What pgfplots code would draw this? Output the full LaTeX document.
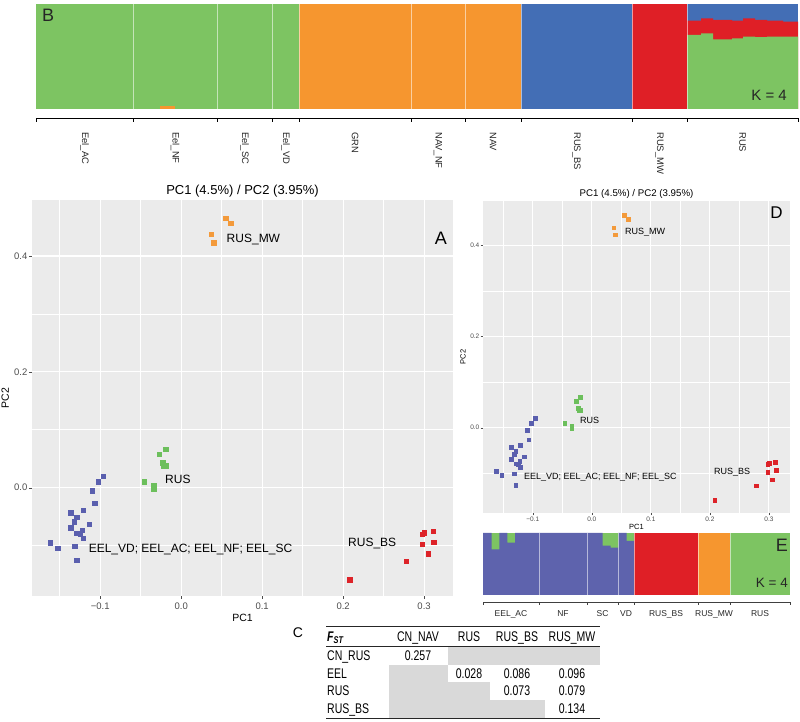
\documentclass[border=0pt]{standalone}
\usepackage{fontspec}
\setmainfont{Liberation Sans}
\newfontfamily\narrowfont[FakeStretch=0.75]{Liberation Sans}
\usepackage{pgfplots}
\pgfplotsset{compat=1.18}

\definecolor{sgreen}{HTML}{7DC462}
\definecolor{sorange}{HTML}{F6962F}
\definecolor{sred}{HTML}{DF1F26}
\definecolor{sblue}{HTML}{436EB5}
\definecolor{eblue}{HTML}{5E63AD}
\definecolor{pblue}{HTML}{5A5FAE}
\definecolor{pgreen}{HTML}{6CBF5C}
\definecolor{porange}{HTML}{F39A3B}
\definecolor{pred}{HTML}{DD2329}
\definecolor{panelgray}{HTML}{EBEBEB}
\definecolor{tickgray}{HTML}{4D4D4D}
\definecolor{cellgray}{HTML}{D9D9D9}

\pgfplotsset{
  structbar/.style={
    scale only axis, axis x line=bottom, axis y line=none,
    axis line style={-, black, line width=0.8pt},
    tick align=outside, major tick length=4pt,
    tick style={black, line width=0.6pt},
    ytick=\empty, xticklabels={},
    extra tick style={major tick length=0pt},
    clip=false,
  },
  pcapanel/.style={
    scale only axis,
    xmin=-0.1843, xmax=0.3357, ymin=-0.187, ymax=0.4967,
    axis background/.style={fill=panelgray},
    axis line style={draw=none},
    xtick={-0.1,0,0.1,0.2,0.3}, xticklabels={−0.1,0.0,0.1,0.2,0.3},
    ytick={0,0.2,0.4}, yticklabels={0.0,0.2,0.4},
    minor xtick={-0.15,-0.05,0.05,0.15,0.25}, minor ytick={-0.1,0.1,0.3},
    grid=both,
    tick pos=left, tick align=outside, minor tick length=0pt,
    tick style={tickgray},
    tick label style={tickgray},
    xlabel={PC1}, ylabel={PC2},
    title={PC1 (4.5\%) / PC2 (3.95\%)},
  },
}

\begin{document}
\begin{tikzpicture}
\useasboundingbox (0pt,0pt) rectangle (800pt,722pt);

% ---- B: structure plot, K = 4
\begin{axis}[structbar, at={(36pt,718pt)}, anchor=north west,
  width=762pt, height=114pt, xmin=0, xmax=762, ymin=-0.0857, ymax=1,
  xtick={0,97,181,236,263,375,429,485,596,651,762},
]
\addplot[fill=sgreen, draw=none] coordinates {(0,1) (263,1)} \closedcycle;
\addplot[fill=sorange, draw=none] coordinates {(263,1) (485,1)} \closedcycle;
\addplot[fill=sblue, draw=none] coordinates {(485,1) (596,1)} \closedcycle;
\addplot[fill=sred, draw=none] coordinates {(596,1) (651,1)} \closedcycle;
\addplot[fill=sorange, draw=none] coordinates {(124,0.03) (139,0.03)} \closedcycle;
% RUS individuals: blue on top, red, green below
\addplot[fill=sblue, draw=none] coordinates {(651,1) (762,1)} \closedcycle;
\addplot[const plot, fill=sred, draw=none] coordinates {
  (651,0.841) (665,0.863) (677,0.848) (696,0.841) (707,0.863)
  (719,0.848) (731,0.841) (747,0.832) (762,0.832)} \closedcycle;
\addplot[const plot, fill=sgreen, draw=none] coordinates {
  (651,0.705) (665,0.721) (677,0.664) (696,0.673) (707,0.689)
  (719,0.684) (731,0.690) (747,0.689) (762,0.689)} \closedcycle;
\addplot[ycomb, white, opacity=0.55, line width=0.6pt, no markers] coordinates {
  (97,1) (181,1) (236,1) (263,1) (375,1) (429,1) (485,1) (596,1) (651,1)};
\node[anchor=north west, inner sep=0pt, font=\fontsize{18}{18}\selectfont, text=black!85] at (axis cs:6,0.952) {B};
\node[anchor=east, inner sep=0pt, font=\fontsize{15}{15}\selectfont, text=black!85] at (axis cs:751,0.133) {K = 4};
% group names under the axis
\begin{scope}[every node/.style={rotate=-90, anchor=west, inner sep=0pt, font=\fontsize{9.4}{10}\selectfont, text=black!85}]
\node at (axis cs:48.5,-0.22) {Eel\_AC};
\node at (axis cs:139,-0.22) {Eel\_NF};
\node at (axis cs:208.5,-0.22) {Eel\_SC};
\node at (axis cs:249.5,-0.22) {Eel\_VD};
\node at (axis cs:319,-0.22) {GRN};
\node at (axis cs:402,-0.22) {NAV\_NF};
\node at (axis cs:457,-0.22) {NAV};
\node at (axis cs:540.5,-0.22) {RUS\_BS};
\node at (axis cs:623.5,-0.22) {RUS\_MW};
\node at (axis cs:706.5,-0.22) {RUS};
\end{scope}
\end{axis}

% ---- A: PCA
\begin{axis}[pcapanel, at={(32pt,522pt)}, anchor=north west,
  width=421pt, height=396pt,
  major grid style={white, line width=1.1pt}, minor grid style={white, line width=0.55pt},
  major tick length=3pt,
  tick label style={font=\fontsize{9.5}{10}\selectfont},
  yticklabel style={inner sep=1.5pt},
  label style={font=\fontsize{10.5}{11}\selectfont},
  xlabel style={inner sep=1pt},
  title style={font=\fontsize{13}{14}\selectfont, yshift=-7pt},
]
\addplot[only marks, mark=square*, mark size=2.2pt, color=pblue] coordinates {
  (-0.0960,0.0200) (-0.1025,0.0100) (-0.1100,-0.0055) (-0.1070,-0.0264)
  (-0.1210,-0.0385) (-0.1365,-0.0430) (-0.1290,-0.0512) (-0.1320,-0.0585)
  (-0.1140,-0.0635) (-0.1365,-0.0692) (-0.1220,-0.0733) (-0.1290,-0.0790)
  (-0.1245,-0.0792) (-0.1210,-0.0875) (-0.1615,-0.0952) (-0.1525,-0.1050)
  (-0.1315,-0.1008) (-0.1290,-0.1256)};
\addplot[only marks, mark=square*, mark size=2.2pt, color=pgreen] coordinates {
  (-0.019,0.066) (-0.027,0.058) (-0.023,0.043) (-0.022,0.038)
  (-0.019,0.038) (-0.046,0.010) (-0.034,0.004) (-0.034,-0.002)};
\addplot[only marks, mark=square*, mark size=2.2pt, color=porange] coordinates {
  (0.055,0.465) (0.061,0.457) (0.037,0.438) (0.040,0.423)};
\addplot[only marks, mark=square*, mark size=2.2pt, color=pred] coordinates {
  (0.208,-0.159) (0.278,-0.127) (0.298,-0.080) (0.300,-0.078)
  (0.311,-0.075) (0.298,-0.098) (0.312,-0.094) (0.305,-0.114)};
\node[anchor=west, inner sep=0pt, font=\fontsize{12}{12}\selectfont] at (axis cs:0.056,0.429) {RUS\_MW};
\node[anchor=west, inner sep=0pt, font=\fontsize{12}{12}\selectfont] at (axis cs:-0.020,0.015) {RUS};
\node[anchor=west, inner sep=0pt, font=\fontsize{12}{12}\selectfont] at (axis cs:-0.1144,-0.107) {EEL\_VD; EEL\_AC; EEL\_NF; EEL\_SC};
\node[anchor=west, inner sep=0pt, font=\fontsize{12}{12}\selectfont] at (axis cs:0.206,-0.097) {RUS\_BS};
\node[anchor=east, inner sep=0pt, font=\fontsize{18}{18}\selectfont] at (rel axis cs:0.986,0.904) {A};
\end{axis}

% ---- D: PCA (small)
\begin{axis}[pcapanel, at={(483pt,521pt)}, anchor=north west,
  width=307pt, height=312pt,
  major grid style={white, line width=0.9pt}, minor grid style={white, line width=0.45pt},
  major tick length=2.5pt,
  tick label style={font=\fontsize{6.5}{7}\selectfont},
  yticklabel style={inner sep=1pt},
  xticklabel style={inner sep=1.5pt},
  label style={font=\fontsize{7.5}{8}\selectfont},
  xlabel style={inner sep=1pt},
  title style={font=\fontsize{9.7}{10}\selectfont, yshift=-7pt},
]
\addplot[only marks, mark=square*, mark size=1.9pt, color=pblue] coordinates {
  (-0.0960,0.0200) (-0.1025,0.0100) (-0.1100,-0.0055) (-0.1070,-0.0264)
  (-0.1210,-0.0385) (-0.1365,-0.0430) (-0.1290,-0.0512) (-0.1320,-0.0585)
  (-0.1140,-0.0635) (-0.1365,-0.0692) (-0.1220,-0.0733) (-0.1290,-0.0790)
  (-0.1245,-0.0792) (-0.1210,-0.0875) (-0.1615,-0.0952) (-0.1525,-0.1050)
  (-0.1315,-0.1008) (-0.1290,-0.1256)};
\addplot[only marks, mark=square*, mark size=1.9pt, color=pgreen] coordinates {
  (-0.019,0.066) (-0.027,0.058) (-0.023,0.043) (-0.022,0.038)
  (-0.019,0.038) (-0.046,0.010) (-0.034,0.004) (-0.034,-0.002)};
\addplot[only marks, mark=square*, mark size=1.9pt, color=porange] coordinates {
  (0.055,0.465) (0.061,0.457) (0.037,0.438) (0.040,0.423)};
\addplot[only marks, mark=square*, mark size=1.9pt, color=pred] coordinates {
  (0.208,-0.159) (0.278,-0.127) (0.298,-0.080) (0.300,-0.078)
  (0.311,-0.075) (0.298,-0.098) (0.312,-0.094) (0.305,-0.114)};
\node[anchor=west, inner sep=0pt, font=\fontsize{9}{9}\selectfont] at (axis cs:0.056,0.429) {RUS\_MW};
\node[anchor=west, inner sep=0pt, font=\fontsize{9}{9}\selectfont] at (axis cs:-0.020,0.015) {RUS};
\node[anchor=west, inner sep=0pt, font=\fontsize{9}{9}\selectfont] at (axis cs:-0.115,-0.108) {EEL\_VD; EEL\_AC; EEL\_NF; EEL\_SC};
\node[anchor=west, inner sep=0pt, font=\fontsize{9}{9}\selectfont] at (axis cs:0.207,-0.097) {RUS\_BS};
\node[anchor=east, inner sep=0pt, font=\fontsize{17}{17}\selectfont] at (rel axis cs:0.977,0.9615) {D};
\end{axis}

% ---- E: structure plot, K = 4
\begin{axis}[structbar, at={(483pt,189pt)}, anchor=north west,
  width=307pt, height=69pt, xmin=0, xmax=307, ymin=-0.113, ymax=1,
  axis line style={-, black!75, line width=0.8pt},
  tick style={black!75, line width=0.5pt}, major tick length=3pt,
  xtick={0,56,104,135,151,215,247,307},
  extra x ticks={28,80,119.5,143,183,231,277},
  extra x tick labels={EEL\_AC,NF,SC,VD,RUS\_BS,RUS\_MW,RUS},
  xticklabel style={anchor=north, yshift=-5pt, font=\fontsize{8.5}{9}\selectfont, text=black!85},
]
\addplot[fill=sgreen, draw=none] coordinates {(0,1) (151,1)} \closedcycle;
\addplot[const plot, fill=eblue, draw=none] coordinates {
  (0,1) (8.7,0.737) (16.3,1) (24.3,0.844) (32,1) (119.7,0.796)
  (127.7,0.763) (135.3,1) (143.7,0.871) (151,0.871)} \closedcycle;
\addplot[fill=sred, draw=none] coordinates {(151,1) (215,1)} \closedcycle;
\addplot[fill=sorange, draw=none] coordinates {(215,1) (247,1)} \closedcycle;
\addplot[fill=sgreen, draw=none] coordinates {(247,1) (307,1)} \closedcycle;
\addplot[ycomb, white, opacity=0.55, line width=0.5pt, no markers] coordinates {
  (56,1) (104,1) (135,1) (151,1) (215,1) (247,1)};
\node[anchor=east, inner sep=0pt, font=\fontsize{18}{18}\selectfont, text=black!85] at (axis cs:305,0.806) {E};
\node[anchor=east, inner sep=0pt, font=\fontsize{13.5}{14}\selectfont, text=black!85] at (axis cs:305,0.194) {K = 4};
\end{axis}

% ---- C: pairwise FST table
\node[anchor=center, font=\fontsize{14}{14}\selectfont] at (298pt,89pt) {C};
\fill[cellgray] (448pt,76pt) rectangle (600pt,57pt);
\fill[cellgray] (389pt,57pt) rectangle (448pt,40pt);
\fill[cellgray] (389pt,40pt) rectangle (490pt,22pt);
\fill[cellgray] (389pt,22pt) rectangle (545pt,4pt);
\draw[line width=1pt, black!85] (326pt,95pt) -- (600pt,95pt);
\draw[line width=0.6pt, black!85] (326pt,76pt) -- (600pt,76pt);
\draw[line width=1pt, black!85] (326pt,3.5pt) -- (600pt,3.5pt);
\begin{scope}[every node/.style={anchor=base, inner sep=0pt, font=\narrowfont\fontsize{14}{14}\selectfont}]
\node[anchor=base west] at (327pt,80.5pt) {\bfseries\itshape F\textsubscript{ST}};
\node at (418pt,80.5pt) {CN\_NAV};
\node at (469pt,80.5pt) {RUS};
\node at (517pt,80.5pt) {RUS\_BS};
\node at (572pt,80.5pt) {RUS\_MW};
\node[anchor=base west] at (327pt,61pt) {CN\_RUS};
\node[anchor=base west] at (327pt,43.5pt) {EEL};
\node[anchor=base west] at (327pt,26pt) {RUS};
\node[anchor=base west] at (327pt,8pt) {RUS\_BS};
\node at (418pt,61pt) {0.257};
\node at (469pt,43.5pt) {0.028};
\node at (517pt,43.5pt) {0.086};
\node at (572pt,43.5pt) {0.096};
\node at (517pt,26pt) {0.073};
\node at (572pt,26pt) {0.079};
\node at (572pt,8pt) {0.134};
\end{scope}
\end{tikzpicture}
\end{document}
